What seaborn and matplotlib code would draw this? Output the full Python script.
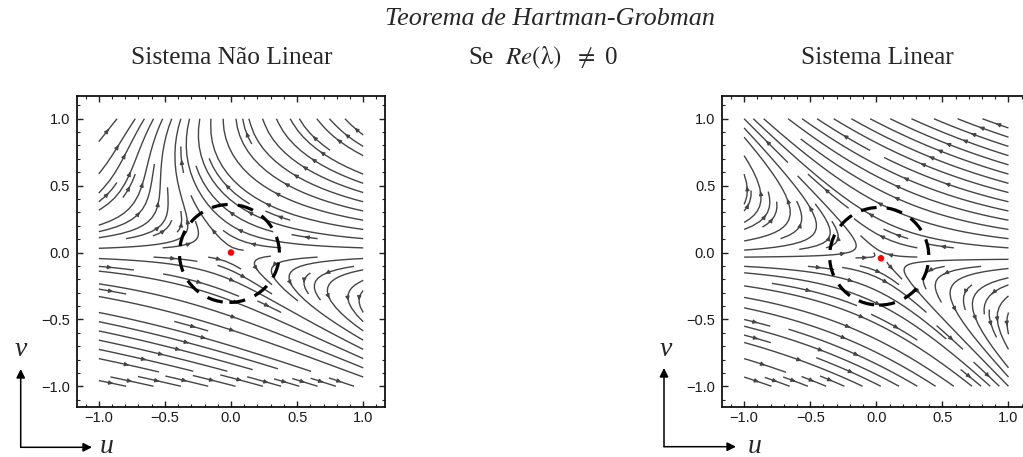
import numpy as np
import matplotlib
matplotlib.use("Agg")
import matplotlib.pyplot as plt
import seaborn as sns
from matplotlib.patches import Ellipse
from matplotlib.ticker import MultipleLocator, FixedLocator

# ---------------- data ----------------
field_range = [-1.0, 1.0]
grid_points = 161
# linear saddle: u' = a*u + b*v ; v' = c*u + d*v  (relative to its equilibrium)
linear_matrix = [[-1.0, -2.0], [0.0, 1.0]]
linear_equilibrium = [0.035, -0.043]
# nonlinear saddle: same Jacobian plus a quadratic term q*v^2 in u'
nonlinear_matrix = [[-1.0, -2.0], [0.0, 1.0]]
nonlinear_quad_v2 = [1.95]
nonlinear_equilibrium = [0.0, 0.0]
# dashed neighbourhoods (center u, center v, radius u, radius v)
left_circle = [-0.012, -0.007, 0.378, 0.366]
right_circle = [0.022, -0.028, 0.375, 0.365]
tick_values = [-1.0, -0.5, 0.0, 0.5, 1.0]
tick_labels = ["\u22121.0", "\u22120.5", "0.0", "0.5", "1.0"]
title_main = "Teorema de Hartman-Grobman"
title_left = "Sistema Não Linear"
title_right = "Sistema Linear"

# ---------------- style ----------------
sns.set_theme(style="white")
plt.rcParams["font.family"] = ["Liberation Sans", "DejaVu Sans"]
plt.rcParams["mathtext.fontset"] = "stix"

W, H = 1023, 457
fig = plt.figure(figsize=(W / 100, H / 100), dpi=100)
fig.patch.set_facecolor("white")

ax_l = fig.add_axes([77 / W, 50 / H, 308 / W, 311 / H])
ax_r = fig.add_axes([722.3 / W, 50 / H, 308 / W, 311 / H])

g = np.linspace(field_range[0], field_range[1], grid_points)
U, V = np.meshgrid(g, g)

def field_linear(u, v):
    a = np.array(linear_matrix)
    du = u - linear_equilibrium[0]
    dv = v - linear_equilibrium[1]
    return a[0, 0] * du + a[0, 1] * dv, a[1, 0] * du + a[1, 1] * dv

def field_nonlinear(u, v):
    a = np.array(nonlinear_matrix)
    du = u - nonlinear_equilibrium[0]
    dv = v - nonlinear_equilibrium[1]
    fu = a[0, 0] * du + a[0, 1] * dv + nonlinear_quad_v2[0] * dv ** 2
    fv = a[1, 0] * du + a[1, 1] * dv
    return fu, fv

def stream(ax, fu, fv):
    kw = dict(density=1.0, color="#454545", linewidth=1.0, arrowsize=0.55,
              arrowstyle="-|>", minlength=0.08)
    try:
        ax.streamplot(U, V, fu, fv, num_arrows=4, **kw)
    except TypeError:
        ax.streamplot(U, V, fu, fv, **kw)

def style_axes(ax):
    ax.set_xlim(-1.165, 1.165)
    ax.set_ylim(-1.155, 1.17)
    ax.xaxis.set_major_locator(FixedLocator(tick_values))
    ax.yaxis.set_major_locator(FixedLocator(tick_values))
    ax.set_xticklabels(tick_labels)
    ax.set_yticklabels(tick_labels)
    ax.xaxis.set_minor_locator(MultipleLocator(0.1))
    ax.yaxis.set_minor_locator(MultipleLocator(0.1))
    ax.tick_params(which="both", direction="in", top=True, right=True,
                   bottom=True, left=True, color="#222222")
    ax.tick_params(which="major", length=4.5, width=1.0, labelsize=10.5,
                   labelcolor="#1a1a1a")
    ax.tick_params(which="minor", length=2.3, width=0.8)
    ax.tick_params(axis="x", which="major", pad=3)
    ax.tick_params(axis="y", which="major", pad=5)
    for s in ax.spines.values():
        s.set_visible(True)
        s.set_color("#111111")
        s.set_linewidth(1.3)
    ax.set_facecolor("white")

fu, fv = field_nonlinear(U, V)
stream(ax_l, fu, fv)
fu, fv = field_linear(U, V)
stream(ax_r, fu, fv)

for ax, c, eq in [(ax_l, left_circle, nonlinear_equilibrium),
                  (ax_r, right_circle, linear_equilibrium)]:
    ax.add_patch(Ellipse((c[0], c[1]), 2 * c[2], 2 * c[3], fill=False,
                         lw=2.3, ls=(0, (5, 3.2)), ec="black", zorder=4))
    sns.scatterplot(x=[eq[0]], y=[eq[1]], color="red", s=22, ax=ax,
                    edgecolor="none", zorder=6, legend=False)
    ax.set_xlabel("")
    ax.set_ylabel("")
    style_axes(ax)

# ---------------- texts ----------------
serif = ["Liberation Serif", "DejaVu Serif"]
fig.text(550 / W, 1 - 19 / H, title_main, family=serif, style="italic",
         fontsize=18.8, ha="center", va="center")
fig.text(232 / W, 1 - 58 / H, title_left, family=serif, fontsize=18.3,
         ha="center", va="center")
fig.text(877 / W, 1 - 58 / H, title_right, family=serif, fontsize=18.3,
         ha="center", va="center")
fig.text(543 / W, 1 - 58 / H, r"Se  $\mathit{Re}(\mathrm{\lambda})$  $\neq$ 0",
         family=serif, fontsize=18, ha="center", va="center")

# axis indicator arrows (u, v)
for x0, y0, top, right, vx, ux in [(20.7, 9.7, 88, 92, 21, 107),
                                   (664, 10.3, 89, 736, 666, 755)]:
    for tip in [(x0, top), (right, y0)]:
        ax_l.annotate("", xy=tip, xytext=(x0, y0), xycoords="figure pixels",
                      textcoords="figure pixels", annotation_clip=False,
                      arrowprops=dict(arrowstyle="-|>", lw=1.1, color="black",
                                      mutation_scale=13, shrinkA=0, shrinkB=0))
    fig.text(vx / W, 108 / H, "v", family=serif, style="italic", fontsize=20,
             ha="center", va="center")
    fig.text(ux / W, 4 / H, "u", family=serif, style="italic", fontsize=20,
             ha="center", va="baseline")

fig.savefig("out.png", dpi=100, facecolor="white")
